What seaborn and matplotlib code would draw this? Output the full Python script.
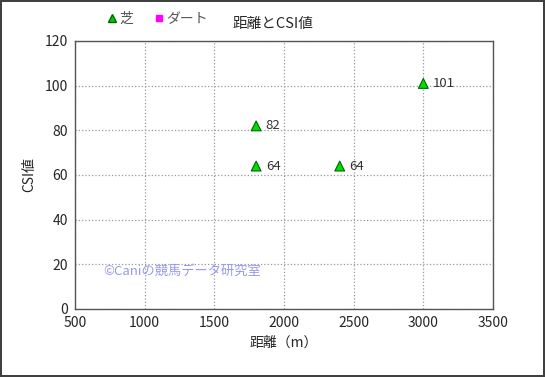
import matplotlib
matplotlib.use("Agg")
import matplotlib.pyplot as plt
import seaborn as sns
import pandas as pd
from matplotlib.lines import Line2D

distance = [1800, 1800, 2400, 3000]
csi = [82, 64, 64, 101]
surface = ["芝", "芝", "芝", "芝"]
labels = ["82", "64", "64", "101"]
x_ticks = [500, 1000, 1500, 2000, 2500, 3000, 3500]
y_ticks = [0, 20, 40, 60, 80, 100, 120]

sns.set_style("white")
plt.rcParams['font.family'] = ['Noto Sans CJK JP', 'DejaVu Sans']

df = pd.DataFrame({"距離": distance, "CSI": csi, "馬場": surface})

fig = plt.figure(figsize=(5.45, 3.77), dpi=100, linewidth=1.5, edgecolor='#404040')
ax = fig.add_axes([75/545, 1-309/377, (493-75)/545, (309-41)/377])

sns.scatterplot(data=df, x="距離", y="CSI", hue="馬場", palette={"芝": "#00dd00"},
                marker="^", s=50, edgecolor="#006600", linewidth=0.8, ax=ax, legend=False, zorder=3)

for xv, yv, t in zip(distance, csi, labels):
    ax.annotate(t, (xv, yv), xytext=(7, 0), textcoords="offset points",
                va="center", ha="left", fontsize=9.5, color="#333333")

ax.set_xlim(500, 3500)
ax.set_ylim(0, 120)
ax.set_xticks(x_ticks)
ax.set_yticks(y_ticks)
ax.tick_params(axis='both', labelsize=10, length=3, direction='out', color='#555555', pad=2)
ax.grid(True, linestyle=':', color='#999999', linewidth=0.9)
for s in ax.spines.values():
    s.set_color('#555555')
    s.set_linewidth(1)
ax.set_xlabel("距離（m）", fontsize=10, labelpad=4)
ax.set_ylabel("CSI値", fontsize=10, labelpad=6)

ax.text(700, 17, "©Caniの競馬データ研究室", color="#9999ee", fontsize=9.5, va="center", ha="left")

fig.text(273/545, 1-24/377, "距離とCSI値", fontsize=10.5, ha="center", va="center")

handles = [Line2D([], [], marker="^", linestyle="none", color="#00cc00", markeredgecolor="#006600", markersize=6),
           Line2D([], [], marker="s", linestyle="none", color="#ff00ff", markersize=5)]
fig.legend(handles, ["芝", "ダート"], loc="center left", bbox_to_anchor=(98/545, 1-19/377),
           ncol=2, frameon=False, fontsize=10, handletextpad=0.0, columnspacing=1.4,
           handlelength=1.0, labelcolor="#555555", borderpad=0)

fig.savefig("out.png", dpi=100)
